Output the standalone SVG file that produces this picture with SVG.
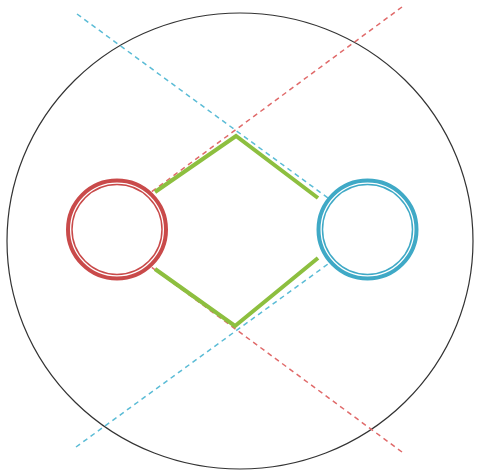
<svg xmlns="http://www.w3.org/2000/svg" width="477" height="472" viewBox="0 0 477 472">
<style>
.dash{fill:none;stroke-width:1.5;stroke-dasharray:5 4}
.r{stroke:#e06a6a}
.b{stroke:#5bbcd6}
.g{fill:none;stroke:#8dbf3f;stroke-width:4;stroke-linejoin:miter}
.ringR{fill:none;stroke:#c94a4a}
.ringB{fill:none;stroke:#3fa9c6}
</style>
<rect width="477" height="472" fill="#fff"/>
<g id="outer"><ellipse cx="240" cy="241" rx="233" ry="228" fill="none" stroke="#333" stroke-width="1.2"/></g>
<g id="connectors">
<line class="dash b" x1="77" y1="14" x2="328" y2="198"/>
<line class="dash b" x1="76" y1="447" x2="328" y2="264"/>
<line class="dash r" x1="402" y1="7" x2="150" y2="193"/>
<line class="dash r" x1="402" y1="452" x2="150" y2="266"/>
<polyline class="g" points="155,192 236,136 318,198"/>
<polyline class="g" points="155,269 235,326 318,258"/>
</g>
<g id="red">
<circle cx="117" cy="229.5" r="48.5" fill="#fff"/>
<circle class="ringR" cx="117" cy="229.5" r="49" stroke-width="4"/>
<circle class="ringR" cx="117" cy="229.5" r="45" stroke-width="1.5"/>
</g>
<g id="blue">
<circle cx="367.5" cy="229.5" r="48.5" fill="#fff"/>
<circle class="ringB" cx="367.5" cy="229.5" r="49" stroke-width="4"/>
<circle class="ringB" cx="367.5" cy="229.5" r="45" stroke-width="1.5"/>
</g>
</svg>
